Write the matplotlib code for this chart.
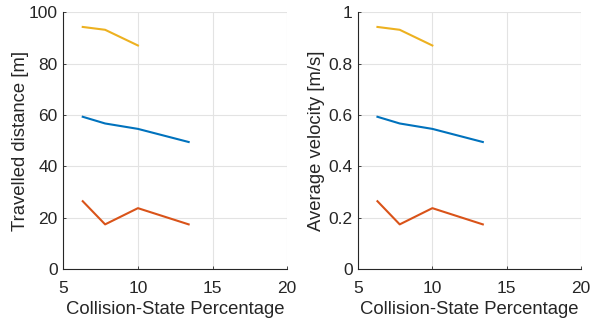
import numpy as np
import matplotlib.pyplot as plt

plt.rcParams['font.family'] = ['Liberation Sans', 'DejaVu Sans']

# collision-state percentage per run
x_blue = [6.3, 7.8, 10.0, 13.4]
x_orange = [6.3, 7.8, 10.0, 13.4]
x_yellow = [6.3, 7.8, 10.0]

# travelled distance [m]
dist_blue = [59.3, 56.7, 54.6, 49.5]
dist_orange = [26.5, 17.5, 23.8, 17.5]
dist_yellow = [94.2, 93.1, 87.0]

# average velocity [m/s]
vel_blue = [0.593, 0.567, 0.546, 0.495]
vel_orange = [0.265, 0.175, 0.238, 0.175]
vel_yellow = [0.942, 0.931, 0.870]

colors = ['#0072BD', '#D95319', '#EDB120']
txt = '#262626'

fig = plt.figure(figsize=(5.92, 3.25), dpi=100)
ax1 = fig.add_axes([0.107, 0.171, 0.378, 0.792])
ax2 = fig.add_axes([0.605, 0.171, 0.376, 0.792])

panels = [
    (ax1, [dist_blue, dist_orange, dist_yellow], 'Travelled distance [m]',
     [0, 20, 40, 60, 80, 100], ['0', '20', '40', '60', '80', '100'], 0),
    (ax2, [vel_blue, vel_orange, vel_yellow], 'Average velocity [m/s]',
     [0, 0.2, 0.4, 0.6, 0.8, 1.0], ['0', '0.2', '0.4', '0.6', '0.8', '1'], 2.5),
]

for ax, ys, ylabel, yt, ytl, ypad in panels:
    for xs, y, c in zip([x_blue, x_orange, x_yellow], ys, colors):
        ax.plot(xs, y, color=c, lw=1.5)
    ax.set_xlim(5, 20)
    ax.set_ylim(yt[0], yt[-1])
    ax.set_xticks([5, 10, 15, 20])
    ax.set_yticks(yt)
    ax.set_yticklabels(ytl)
    ax.grid(True, color='#e3e3e3', lw=0.8)
    ax.set_axisbelow(True)
    for s in ['top', 'right']:
        ax.spines[s].set_visible(False)
    for s in ['left', 'bottom']:
        ax.spines[s].set_color(txt)
        ax.spines[s].set_linewidth(0.8)
    ax.tick_params(direction='in', length=2, width=0.6, colors=txt,
                   labelsize=12.5)
    ax.tick_params(axis='x', pad=8)
    ax.tick_params(axis='y', pad=4)
    ax.set_xlabel('Collision-State Percentage', fontsize=13.3, color=txt,
                  labelpad=4)
    ax.set_ylabel(ylabel, fontsize=13.3, color=txt, labelpad=ypad)

fig.savefig('out.png', dpi=100)
